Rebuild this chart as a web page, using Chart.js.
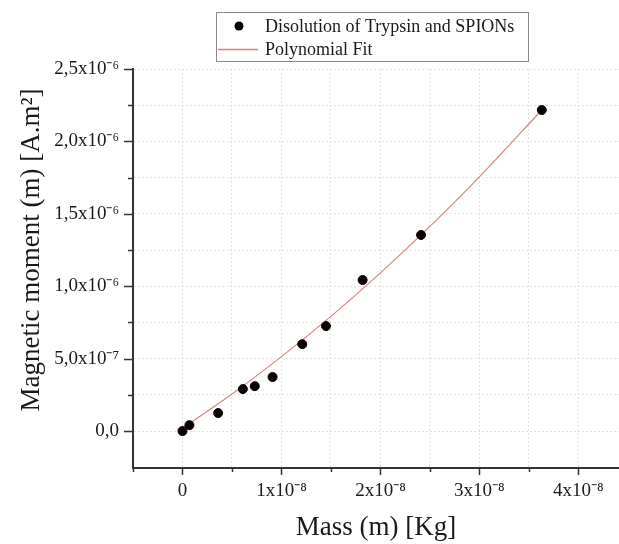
<!DOCTYPE html>
<html>
<head>
<meta charset="utf-8">
<script src="https://cdn.jsdelivr.net/npm/chart.js@4.4.0/dist/chart.umd.min.js"></script>
<style>
  html, body { margin: 0; padding: 0; background: #fff; }
  #wrap { width: 619px; height: 544px; }
</style>
</head>
<body>
<div id="wrap"><canvas id="chartMoment" width="619" height="544"></canvas></div>
<script>
// Datos
const massKg = [0, 7e-10, 3.6e-9, 6.1e-9, 7.3e-9, 9.1e-9, 1.21e-8, 1.45e-8, 1.82e-8, 2.41e-8, 3.63e-8];
const momentAm2 = [0, 4.1e-8, 1.24e-7, 2.9e-7, 3.1e-7, 3.73e-7, 6.0e-7, 7.25e-7, 1.043e-6, 1.354e-6, 2.217e-6];

// Curva del ajuste polinomial (puntos leídos sobre la línea)
const fitMass = [0, 5e-9, 1e-8, 1.5e-8, 2e-8, 2.5e-8, 3e-8, 3.63e-8];
const fitMoment = [2e-8, 2.56e-7, 5.14e-7, 7.92e-7, 1.092e-6, 1.413e-6, 1.755e-6, 2.217e-6];

const seriesLabels = ['Disolution of Trypsin and SPIONs', 'Polynomial Fit'];
const xTitle = 'Mass (m) [Kg]';
const yTitle = 'Magnetic moment (m) [A.m²]';

const serif = "'Liberation Serif', 'Times New Roman', serif";
const ink = '#1a1a1a';
const fitColor = '#d9827c';

const toPoints = (xs, ys) => xs.map((x, i) => ({ x: x, y: ys[i] }));

// Ticks con longitud mayor/menor, título Y y leyenda
const extras = {
  id: 'extras',
  afterDraw(chart) {
    const c = chart.ctx;
    const xs = chart.scales.x, ys = chart.scales.y;
    const area = chart.chartArea;
    c.save();
    c.strokeStyle = '#333';
    c.lineWidth = 1.5;
    ys.ticks.forEach(t => {
      const q = Math.round(t.value / 0.25e-6);
      const len = q % 2 === 0 ? 9 : 5;
      const py = Math.round(ys.getPixelForValue(t.value)) + 0.5;
      c.beginPath(); c.moveTo(area.left - len, py); c.lineTo(area.left, py); c.stroke();
    });
    xs.ticks.forEach(t => {
      const q = Math.round(t.value / 0.5e-8);
      const len = q % 2 === 0 ? 7 : 4;
      const px = Math.round(xs.getPixelForValue(t.value)) + 0.5;
      c.beginPath(); c.moveTo(px, area.bottom); c.lineTo(px, area.bottom + len); c.stroke();
    });

    // título eje Y
    c.fillStyle = ink;
    c.font = '27px ' + serif;
    c.textAlign = 'center';
    c.textBaseline = 'middle';
    c.translate(32, 250);
    c.rotate(-Math.PI / 2);
    c.fillText(yTitle, 0, 0);
    c.restore();

    // leyenda
    c.save();
    c.strokeStyle = '#8a8a8a';
    c.lineWidth = 1;
    c.strokeRect(216.5, 12.5, 312, 49);
    c.fillStyle = '#0a0000';
    c.beginPath(); c.arc(239, 26, 4.5, 0, Math.PI * 2); c.fill();
    c.strokeStyle = fitColor;
    c.lineWidth = 1.5;
    c.beginPath(); c.moveTo(218, 49.5); c.lineTo(258, 49.5); c.stroke();
    c.fillStyle = ink;
    c.font = '18px ' + serif;
    c.textAlign = 'left';
    c.textBaseline = 'middle';
    c.fillText(chart.data.datasets[0].label, 265, 27);
    c.fillText(chart.data.datasets[1].label, 265, 50);
    c.restore();
  }
};

const ctxMoment = document.getElementById('chartMoment');
new Chart(ctxMoment, {
  type: 'scatter',
  data: {
    datasets: [{
      label: seriesLabels[0],
      data: toPoints(massKg, momentAm2),
      backgroundColor: '#0a0000',
      borderColor: '#0a0000',
      pointRadius: 4.5,
      pointHoverRadius: 4.5
    }, {
      label: seriesLabels[1],
      data: toPoints(fitMass, fitMoment),
      showLine: true,
      borderColor: fitColor,
      borderWidth: 1.2,
      pointRadius: 0,
      cubicInterpolationMode: 'monotone'
    }]
  },
  options: {
    responsive: false,
    animation: false,
    layout: { autoPadding: false, padding: { top: 69, left: 0, right: 0, bottom: 0 } },
    plugins: { legend: { display: false }, tooltip: { enabled: false } },
    scales: {
      x: {
        type: 'linear',
        min: -0.5e-8,
        max: 4.41e-8,
        afterFit: s => { s.height = 76; s.paddingLeft = 0; s.paddingRight = 0; },
        grid: { color: '#e2e2e2', drawTicks: false },
        border: { color: '#333', width: 2, dash: [2, 2] },
        ticks: {
          stepSize: 0.5e-8,
          includeBounds: false,
          padding: 12,
          color: ink,
          font: { family: serif, size: 19 },
          maxRotation: 0,
          autoSkip: false,
          callback: v => {
            const q = Math.round(v / 0.5e-8);
            if (q < 0 || q % 2 !== 0) return '';
            return q === 0 ? '0' : (q / 2) + 'x10⁻⁸';
          }
        },
        title: {
          display: true,
          text: xTitle,
          color: ink,
          font: { family: serif, size: 27 },
          padding: { top: 0, bottom: 0 }
        }
      },
      y: {
        type: 'linear',
        min: -0.255e-6,
        max: 2.5e-6,
        afterFit: s => { s.width = 133; },
        afterBuildTicks: s => { s.ticks = s.ticks.filter(t => t.value > -1e-8); },
        grid: { color: '#e2e2e2', drawTicks: false },
        border: { color: '#333', width: 2, dash: [2, 2] },
        ticks: {
          stepSize: 0.25e-6,
          padding: 14,
          color: ink,
          font: { family: serif, size: 19 },
          autoSkip: false,
          callback: v => {
            const q = Math.round(v / 0.25e-6);
            if (q % 2 !== 0) return '';
            const half = q / 2;
            if (half === 0) return '0,0';
            if (half === 1) return '5,0x10⁻⁷';
            return (half * 0.5).toFixed(1).replace('.', ',') + 'x10⁻⁶';
          }
        }
      }
    }
  },
  plugins: [extras]
});
</script>
</body>
</html>
